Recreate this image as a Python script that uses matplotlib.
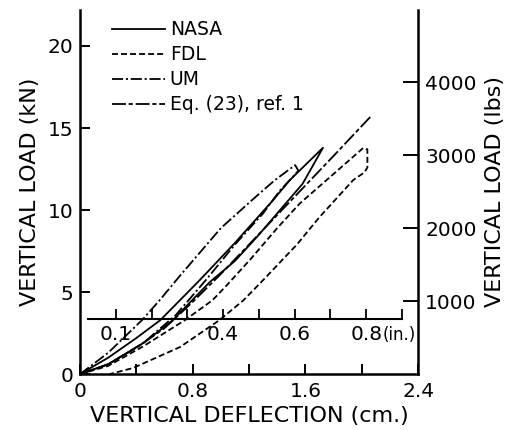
import matplotlib
matplotlib.use("Agg")
import matplotlib.pyplot as plt

plt.rcParams['font.family'] = ['DejaVu Sans']
plt.rcParams['lines.scale_dashes'] = False

# load-deflection curves: deflection (cm), load (kN)
nasa_x = [0, 0.2, 0.4, 0.57, 0.85, 1.1, 1.37, 1.49, 1.725, 1.58, 1.42, 1.26, 1.1, 0.92, 0.75, 0.66, 0.45, 0.2, 0]
nasa_y = [0, 1.0, 2.2, 3.29, 5.73, 8.0, 10.6, 11.83, 13.8, 11.6, 10.0, 8.4, 6.9, 5.6, 4.1, 3.29, 1.9, 0.6, 0]

fdl_x = [0, 0.2, 0.45, 0.745, 0.94, 1.04, 1.21, 1.4, 1.56, 1.8, 2.01, 2.04, 2.04, 2.02,
         1.94, 1.70, 1.54, 1.30, 1.16, 0.99, 0.71, 0.376, 0.21]
fdl_y = [0, 0.5, 1.7, 3.29, 4.5, 5.4, 7.0, 8.9, 10.4, 12.2, 13.78, 13.7, 12.6, 12.3,
         11.83, 9.57, 7.9, 5.73, 4.5, 3.29, 1.65, 0.37, 0]

um_x = [0, 0.2, 0.44, 0.57, 0.71, 1.0, 1.22, 1.38, 1.527, 1.55, 1.49, 1.42, 1.30, 1.1, 0.9, 0.68, 0.45, 0.2, 0]
um_y = [0, 1.3, 3.29, 4.55, 6.0, 8.9, 10.6, 11.8, 12.74, 12.4, 11.83, 11.2, 9.8, 7.9, 5.8, 3.6, 1.9, 0.6, 0]

eq_x = [0, 0.2, 0.4, 0.6, 0.8, 1.0, 1.2, 1.4, 1.6, 1.8, 2.06]
eq_y = [0, 0.6, 1.6, 2.8, 4.4, 6.1, 7.9, 9.7, 11.5, 13.3, 15.67]

cm_ticks = [0, 0.8, 1.6, 2.4]
cm_minor = [0.4, 1.2, 2.0]
kn_ticks = [0, 5, 10, 15, 20]
lbs_ticks = [1000, 2000, 3000, 4000]
in_ticks = [0.1, 0.2, 0.3, 0.4, 0.5, 0.6, 0.7, 0.8, 0.9]
in_labels = ['0.1', '', '', '0.4', '', '0.6', '', '0.8', '']

KN_TO_LBS = 1000 / 4.448
CM_PER_IN = 2.54

fig = plt.figure(figsize=(5.13, 4.30), dpi=100)
ax = fig.add_axes([0.156, 0.130, 0.659, 0.847])

lw = 1.3
ax.plot(nasa_x, nasa_y, color='black', lw=lw, ls='-', label='NASA')
ax.plot(fdl_x, fdl_y, color='black', lw=lw, ls=(0, (4.3, 2.2)), label='FDL')
ax.plot(um_x, um_y, color='black', lw=lw, ls=(0, (8, 2, 1.5, 2)), label='UM')
ax.plot(eq_x, eq_y, color='black', lw=lw, ls=(0, (10, 2, 3, 2)), label='Eq. (23), ref. 1')

ax.set_xlim(0, 2.4)
ax.set_ylim(0, 22.2)
ax.spines['top'].set_visible(False)
ax.spines['right'].set_visible(False)
for s in ['left', 'bottom']:
    ax.spines[s].set_linewidth(1.8)

ax.set_xticks(cm_ticks, labels=['0', '0.8', '1.6', '2.4'])
ax.set_xticks(cm_minor, minor=True)
ax.set_yticks(kn_ticks)
ax.tick_params(axis='x', which='both', direction='in', length=7, width=1.4, labelsize=14.5, pad=6)
ax.tick_params(axis='y', direction='in', length=7, width=1.4, labelsize=14.5, pad=5)
ax.set_xlabel('VERTICAL DEFLECTION (cm.)', fontsize=16, labelpad=3)
ax.set_ylabel('VERTICAL LOAD (kN)', fontsize=16, labelpad=5)

# right-hand load axis in pounds
rax = ax.secondary_yaxis('right', functions=(lambda k: k * KN_TO_LBS, lambda p: p / KN_TO_LBS))
rax.set_yticks(lbs_ticks)
rax.spines['right'].set_linewidth(1.8)
rax.tick_params(direction='in', length=11, width=1.4, labelsize=14.5, pad=5)
rax.set_ylabel('VERTICAL LOAD (lbs)', fontsize=16, labelpad=6)

# inner deflection scale in inches
iax = ax.secondary_xaxis(0.151, functions=(lambda c: c / CM_PER_IN, lambda i: i * CM_PER_IN))
iax.set_xticks(in_ticks, labels=in_labels)
iax.spines['bottom'].set_bounds(0.022, 0.9)
iax.spines['bottom'].set_linewidth(1.5)
iax.tick_params(direction='in', length=7, width=1.3, labelsize=14.5, pad=4)
ax.annotate('(in.)', xy=(0.8 * CM_PER_IN, 0.151), xycoords=('data', 'axes fraction'),
            xytext=(12, -5), textcoords='offset points', ha='left', va='top', fontsize=12)

ax.legend(loc='upper left', bbox_to_anchor=(0.095, 0.972), frameon=False, fontsize=13.5,
          handlelength=2.8, handletextpad=0.27, labelspacing=0.32, borderpad=0, borderaxespad=0)

fig.savefig('out.png', dpi=100)
